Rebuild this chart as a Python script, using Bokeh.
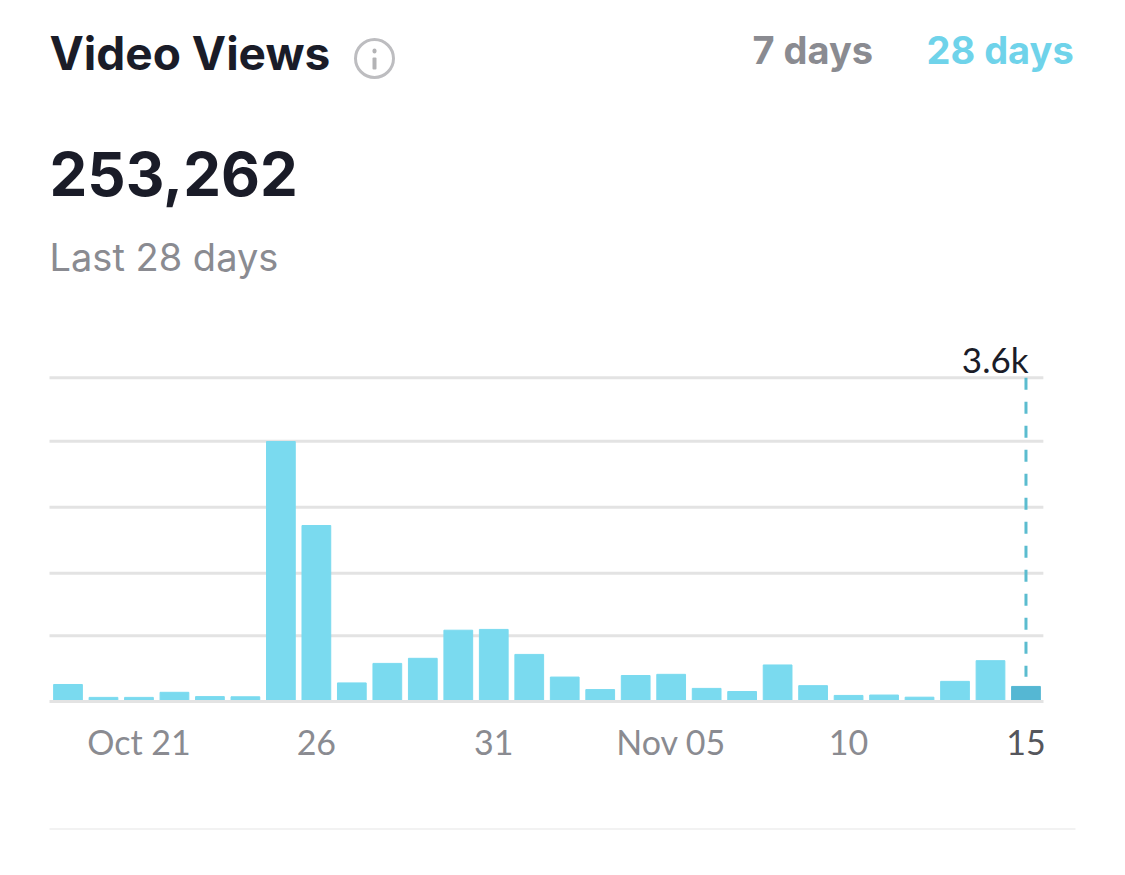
from bokeh.plotting import figure
from bokeh.models import Range1d, FixedTicker, Label, BoxAnnotation, LinearAxis
from bokeh.embed import file_html
from bokeh.resources import INLINE

day_index = list(range(28))
views_k = [4.1, 0.8, 0.8, 2.1, 1.0, 0.95, 66.3, 44.8, 4.5, 9.5, 10.8, 18.0, 18.2, 11.8, 6.0,
           2.8, 6.4, 6.7, 3.1, 2.3, 9.1, 3.8, 1.3, 1.4, 0.85, 4.9, 10.2, 3.6]
grid_k = [16.6, 32.6, 49.5, 66.4, 82.6]
tick_pos = [2, 7, 12, 17, 22]
tick_labels = ["Oct 21", "26", "31", "Nov 05", "10"]
last_pos = 27
last_label = "15"
title = "Video Views"
total = "253,262"
subtitle = "Last 28 days"
hover_value = 3.6
hover_label = "3.6k"

FONT = "Lato"
HEAD_FONT = "Inter"
DARK = "#1a1c28"
GREY = "#8a8b91"
CYAN = "#7adaef"
AXIS_START, AXIS_END = -0.521, 27.49
BASE = -0.256

p = figure(width=1125, height=875, output_backend="svg", toolbar_location=None,
           x_range=Range1d(-1.9025, 29.805), y_range=Range1d(-44.8, 179.2),
           min_border_left=0, min_border_right=0, min_border_top=0, min_border_bottom=0)
p.outline_line_color = None
p.background_fill_color = "white"
p.yaxis.visible = False
p.grid.visible = False

p.segment(x0=[AXIS_START] * len(grid_k), x1=[AXIS_END] * len(grid_k), y0=grid_k, y1=grid_k,
          line_color="#e3e3e3", line_width=3)

colors = [CYAN] * (len(views_k) - 1) + ["#55b7d3"]
p.vbar(x=day_index, top=views_k, bottom=0, width=0.81, color=colors)
p.line(x=[last_pos, last_pos], y=[grid_k[-1], hover_value + 2.5], line_color="#5bbccf",
       line_width=3, line_dash=[12, 12])

ax = p.xaxis[0]
ax.fixed_location = BASE
ax.bounds = (AXIS_START, AXIS_END)
ax.ticker = FixedTicker(ticks=tick_pos)
ax.major_label_overrides = dict(zip(tick_pos, tick_labels))
ax.axis_line_color = "#e3e3e3"
ax.axis_line_width = 3
ax.major_tick_line_color = None
ax.minor_tick_line_color = None
ax.major_label_text_font = FONT
ax.major_label_text_font_size = "34px"
ax.major_label_text_color = GREY
ax.major_label_standoff = 13

ax2 = LinearAxis(fixed_location=BASE, ticker=FixedTicker(ticks=[last_pos]),
                 major_label_overrides={last_pos: last_label})
ax2.axis_line_color = None
ax2.major_tick_line_color = None
ax2.minor_tick_line_color = None
ax2.major_label_text_font = FONT
ax2.major_label_text_font_size = "34px"
ax2.major_label_text_color = "#55565c"
ax2.major_label_standoff = 22
p.add_layout(ax2, "below")


def text(s, px, py, size, color, style="normal", align="left", font=HEAD_FONT):
    p.add_layout(Label(x=px, y=875 - py + 0.4 * size, x_units="screen", y_units="screen", text=s,
                       text_font=font, text_font_size=f"{size}px", text_color=color,
                       text_font_style=style, text_align=align, text_baseline="alphabetic"))


text(title, 49, 71, 46, DARK, "bold")
text(total, 49, 197, 60, DARK, "bold")
text(subtitle, 49, 272, 38, GREY)
text("7 days", 752, 65, 38, GREY, "bold")
text("28 days", 926, 65, 38, "#6fd3ea", "bold")
text(hover_label, 1028, 372, 35, DARK, align="right", font=FONT)


def box(left, right, top, bottom, **kw):
    p.add_layout(BoxAnnotation(left=left, right=right, top=top, bottom=bottom,
                               left_units="canvas", right_units="canvas", top_units="canvas",
                               bottom_units="canvas", **kw))


# info icon and bottom rule, positioned in canvas pixels
box(355, 393, 39, 77, fill_color=None, line_color="#bdbdc0", line_alpha=1, line_width=3,
    border_radius=19)
box(372, 376, 48, 53, fill_color="#b3b3b5", fill_alpha=1, line_color=None, border_radius=2)
box(372, 376, 57, 69, fill_color="#b3b3b5", fill_alpha=1, line_color=None, border_radius=1)
box(49, 1075, 828, 829, fill_color="#e6e6e6", fill_alpha=1, line_color=None)

open("out.html", "w").write(file_html(p, INLINE))
